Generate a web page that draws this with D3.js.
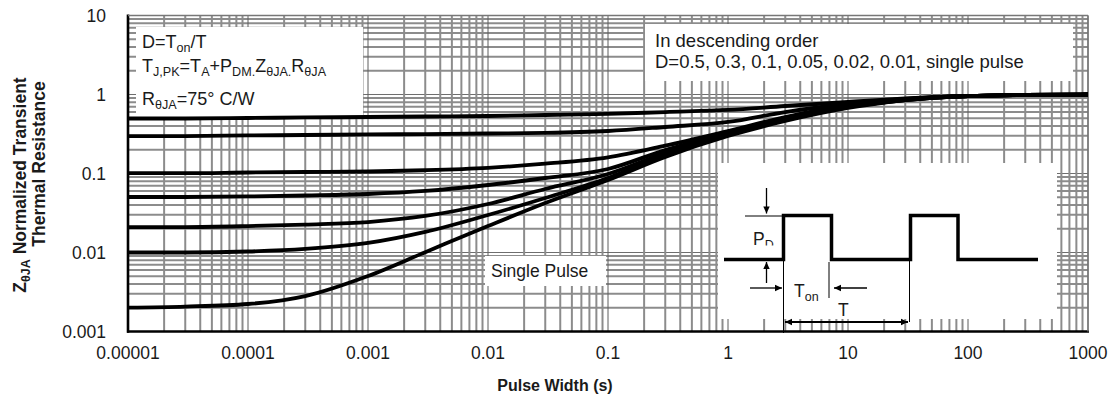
<!DOCTYPE html>
<html><head><meta charset="utf-8">
<script src="https://cdn.jsdelivr.net/npm/d3@7"></script>
<style>
body{margin:0;background:#fff}
svg{display:block}
text{font-family:"Liberation Sans",Arial,sans-serif;fill:#1a1a1a}
</style>
</head><body>
<svg id="chart" width="1113" height="405"></svg>
<script>
// ---------------- data ----------------
const pulseWidths = [1e-5, 3e-5, 1e-4, 3e-4, 1e-3, 3e-3, 1e-2, 3e-2, 0.1, 0.3, 1, 3, 10, 30, 100, 300, 1000];
const dutyLabels = ["0.5", "0.3", "0.1", "0.05", "0.02", "0.01", "single pulse"];
const zD050 = [0.497, 0.497, 0.504, 0.512, 0.519, 0.527, 0.534, 0.550, 0.567, 0.600, 0.637, 0.715, 0.804, 0.890, 0.957, 0.986, 1.0];
const zD030 = [0.298, 0.298, 0.303, 0.307, 0.312, 0.316, 0.321, 0.326, 0.345, 0.388, 0.449, 0.600, 0.758, 0.877, 0.957, 0.986, 1.0];
const zD010 = [0.101, 0.101, 0.103, 0.1045, 0.106, 0.110, 0.118, 0.133, 0.160, 0.225, 0.345, 0.519, 0.726, 0.865, 0.957, 0.986, 1.0];
const zD005 = [0.0504, 0.0504, 0.0512, 0.0527, 0.0550, 0.0601, 0.0715, 0.0877, 0.114, 0.198, 0.326, 0.504, 0.715, 0.865, 0.957, 0.986, 1.0];
const zD002 = [0.0210, 0.0210, 0.0216, 0.0226, 0.0243, 0.0290, 0.0411, 0.0637, 0.0986, 0.182, 0.316, 0.490, 0.695, 0.852, 0.957, 0.986, 1.0];
const zD001 = [0.0100, 0.0100, 0.0103, 0.0111, 0.0132, 0.0182, 0.0298, 0.0490, 0.0877, 0.171, 0.307, 0.476, 0.695, 0.852, 0.957, 0.986, 1.0];
const zSingle = [0.00201, 0.00207, 0.00223, 0.00281, 0.00504, 0.0101, 0.0216, 0.0423, 0.0828, 0.162, 0.298, 0.462, 0.675, 0.852, 0.957, 0.986, 1.0];
const seriesList = [zD050, zD030, zD010, zD005, zD002, zD001, zSingle];

const xTickValues = [1e-5, 1e-4, 1e-3, 1e-2, 0.1, 1, 10, 100, 1000];
const xTickLabels = ["0.00001", "0.0001", "0.001", "0.01", "0.1", "1", "10", "100", "1000"];
const yTickValues = [0.001, 0.01, 0.1, 1, 10];
const yTickLabels = ["0.001", "0.01", "0.1", "1", "10"];

// ---------------- layout ----------------
const svg = d3.select("#chart");
const L = 128, R = 1088, T = 15.5, B = 331.5;
const x = d3.scaleLog().domain([1e-5, 1000]).range([L, R]);
const y = d3.scaleLog().domain([0.001, 10]).range([B, T]);

const minorCol = "#8c8c8c";

const xGrid = [], yGrid = [];
for (let k = -5; k <= 2; k++) for (let m = 1; m <= 9; m++) xGrid.push({v: m * Math.pow(10, k), major: m === 1});
xGrid.push({v: 1000, major: true});
for (let k = -3; k <= 0; k++) for (let m = 1; m <= 9; m++) yGrid.push({v: m * Math.pow(10, k), major: m === 1});
yGrid.push({v: 10, major: true});

const g = svg.append("g");
g.selectAll("line.hg").data(yGrid).join("line")
  .attr("x1", L).attr("x2", R)
  .attr("y1", d => y(d.v)).attr("y2", d => y(d.v))
  .attr("stroke", d => d.major ? "#6e6e6e" : minorCol)
  .attr("stroke-width", d => d.major ? 1.2 : 2);
g.selectAll("line.vg").data(xGrid).join("line")
  .attr("y1", T).attr("y2", B)
  .attr("x1", d => x(d.v)).attr("x2", d => x(d.v))
  .attr("stroke", d => d.major ? "#5e5e5e" : minorCol)
  .attr("stroke-width", d => d.major ? 1 : 2);

const boxes = [
  [136, 27, 227, 90],
  [645, 24, 428, 57],
  [485, 256, 121, 30],
  [718, 163, 339, 156]
];
g.selectAll("rect.box").data(boxes).join("rect")
  .attr("x", d => d[0]).attr("y", d => d[1]).attr("width", d => d[2]).attr("height", d => d[3])
  .attr("fill", "#fff");

g.append("line").attr("x1", L).attr("x2", L).attr("y1", T - 1).attr("y2", B + 1.2).attr("stroke", "#000").attr("stroke-width", 2.6);
g.append("line").attr("x1", L - 1).attr("x2", R + 1).attr("y1", B).attr("y2", B).attr("stroke", "#000").attr("stroke-width", 2.6);
g.append("line").attr("x1", L).attr("x2", R).attr("y1", T).attr("y2", T).attr("stroke", "#777").attr("stroke-width", 1.5);
g.append("line").attr("x1", R).attr("x2", R).attr("y1", T).attr("y2", B).attr("stroke", "#777").attr("stroke-width", 1.5);

const line = d3.line().x((d, i) => x(pulseWidths[i])).y(d => y(d)).curve(d3.curveMonotoneX);
g.selectAll("path.curve").data(seriesList).join("path")
  .attr("d", d => line(d)).attr("fill", "none").attr("stroke", "#000").attr("stroke-width", 3.8)
  .attr("stroke-linejoin", "round");

g.selectAll("text.xt").data(xTickValues).join("text")
  .attr("x", d => x(d)).attr("y", 359).attr("text-anchor", "middle").attr("font-size", 17.5)
  .text((d, i) => xTickLabels[i]);
g.selectAll("text.yt").data(yTickValues).join("text")
  .attr("x", 106).attr("y", d => y(d) + 6).attr("text-anchor", "end").attr("font-size", 17.5)
  .text((d, i) => yTickLabels[i]);

g.append("text").attr("x", 555).attr("y", 391).attr("text-anchor", "middle")
  .attr("font-size", 16).attr("font-weight", "bold").text("Pulse Width (s)");

const yt1 = g.append("text").attr("transform", "translate(26,185) rotate(-90)")
  .attr("text-anchor", "middle").attr("font-size", 17.5).attr("font-weight", "bold");
yt1.append("tspan").text("Z");
yt1.append("tspan").attr("font-size", 12.5).attr("dy", 4).text("θJA");
yt1.append("tspan").attr("dy", -4).text(" Normalized Transient");
g.append("text").attr("transform", "translate(45,164) rotate(-90)")
  .attr("text-anchor", "middle").attr("font-size", 17.5).attr("font-weight", "bold").text("Thermal Resistance");

function rich(xp, yp, parts, size) {
  const t = g.append("text").attr("x", xp).attr("y", yp).attr("font-size", size);
  let sub = false;
  parts.forEach(([s, isSub]) => {
    const ts = t.append("tspan").text(s);
    if (isSub) ts.attr("font-size", size * 0.7);
    if (isSub && !sub) ts.attr("dy", 4);
    if (!isSub && sub) ts.attr("dy", -4);
    sub = isSub;
  });
  return t;
}
rich(142, 48, [["D=T", false], ["on", true], ["/T", false]], 18);
rich(142, 72, [["T", false], ["J,PK", true], ["=T", false], ["A", true], ["+P", false], ["DM", true], [".", true], ["Z", false], ["θJA", true], [".", true], ["R", false], ["θJA", true]], 18);
rich(142, 105, [["R", false], ["θJA", true], ["=75° C/W", false]], 18);

g.append("text").attr("x", 655).attr("y", 47).attr("font-size", 18.5).text("In descending order");
g.append("text").attr("x", 655).attr("y", 68).attr("font-size", 18.5)
  .text("D=" + dutyLabels.join(", "));
g.append("text").attr("x", 491).attr("y", 277).attr("font-size", 17.5).text("Single Pulse");

const ins = g.append("g");
const base = 259.5, high = 215.5;
const wave = [[724, base], [783.5, base], [783.5, high], [831.5, high], [831.5, base], [910.5, base], [910.5, high], [958, high], [958, base], [1038, base]];
ins.append("path").attr("d", d3.line()(wave)).attr("fill", "none").attr("stroke", "#000").attr("stroke-width", 3.5);
const thin = (x1, y1, x2, y2) => ins.append("line").attr("x1", x1).attr("y1", y1).attr("x2", x2).attr("y2", y2).attr("stroke", "#000").attr("stroke-width", 1);
thin(745, 216, 783, 216);
thin(783.5, 260, 783.5, 333);
thin(829, 262, 829, 298);
thin(909.5, 260, 909.5, 322);
function arrow(x1, y1, x2, y2, w) {
  ins.append("line").attr("x1", x1).attr("y1", y1).attr("x2", x2).attr("y2", y2).attr("stroke", "#000").attr("stroke-width", w || 1.3);
  const a = Math.atan2(y2 - y1, x2 - x1), s = 7, h = 3.2;
  const p = [[x2, y2], [x2 - s * Math.cos(a) + h * Math.sin(a), y2 - s * Math.sin(a) - h * Math.cos(a)], [x2 - s * Math.cos(a) - h * Math.sin(a), y2 - s * Math.sin(a) + h * Math.cos(a)]];
  ins.append("path").attr("d", "M" + p.join("L") + "Z").attr("fill", "#000");
}
arrow(766.5, 188, 766.5, 213.5);
arrow(766.5, 283, 766.5, 262);
arrow(750, 288, 782, 288);
arrow(867, 288, 834, 288);
arrow(800, 322, 785, 322, 2);
arrow(892, 322, 908, 322, 2);
ins.append("line").attr("x1", 790).attr("x2", 902).attr("y1", 322).attr("y2", 322).attr("stroke", "#000").attr("stroke-width", 2);

const clip = svg.append("clipPath").attr("id", "pdclip");
clip.append("rect").attr("x", 740).attr("y", 220).attr("width", 60).attr("height", 25.5);
const pd = ins.append("text").attr("x", 753).attr("y", 245).attr("font-size", 17.5).attr("clip-path", "url(#pdclip)");
pd.append("tspan").text("P");
pd.append("tspan").attr("font-size", 12.5).attr("dy", 4).text("D");
const ton = ins.append("text").attr("x", 794).attr("y", 297).attr("font-size", 17.5);
ton.append("tspan").text("T");
ton.append("tspan").attr("font-size", 12.5).attr("dy", 4).text("on");
ins.append("text").attr("x", 838).attr("y", 316).attr("font-size", 17.5).text("T");
</script>
</body></html>
